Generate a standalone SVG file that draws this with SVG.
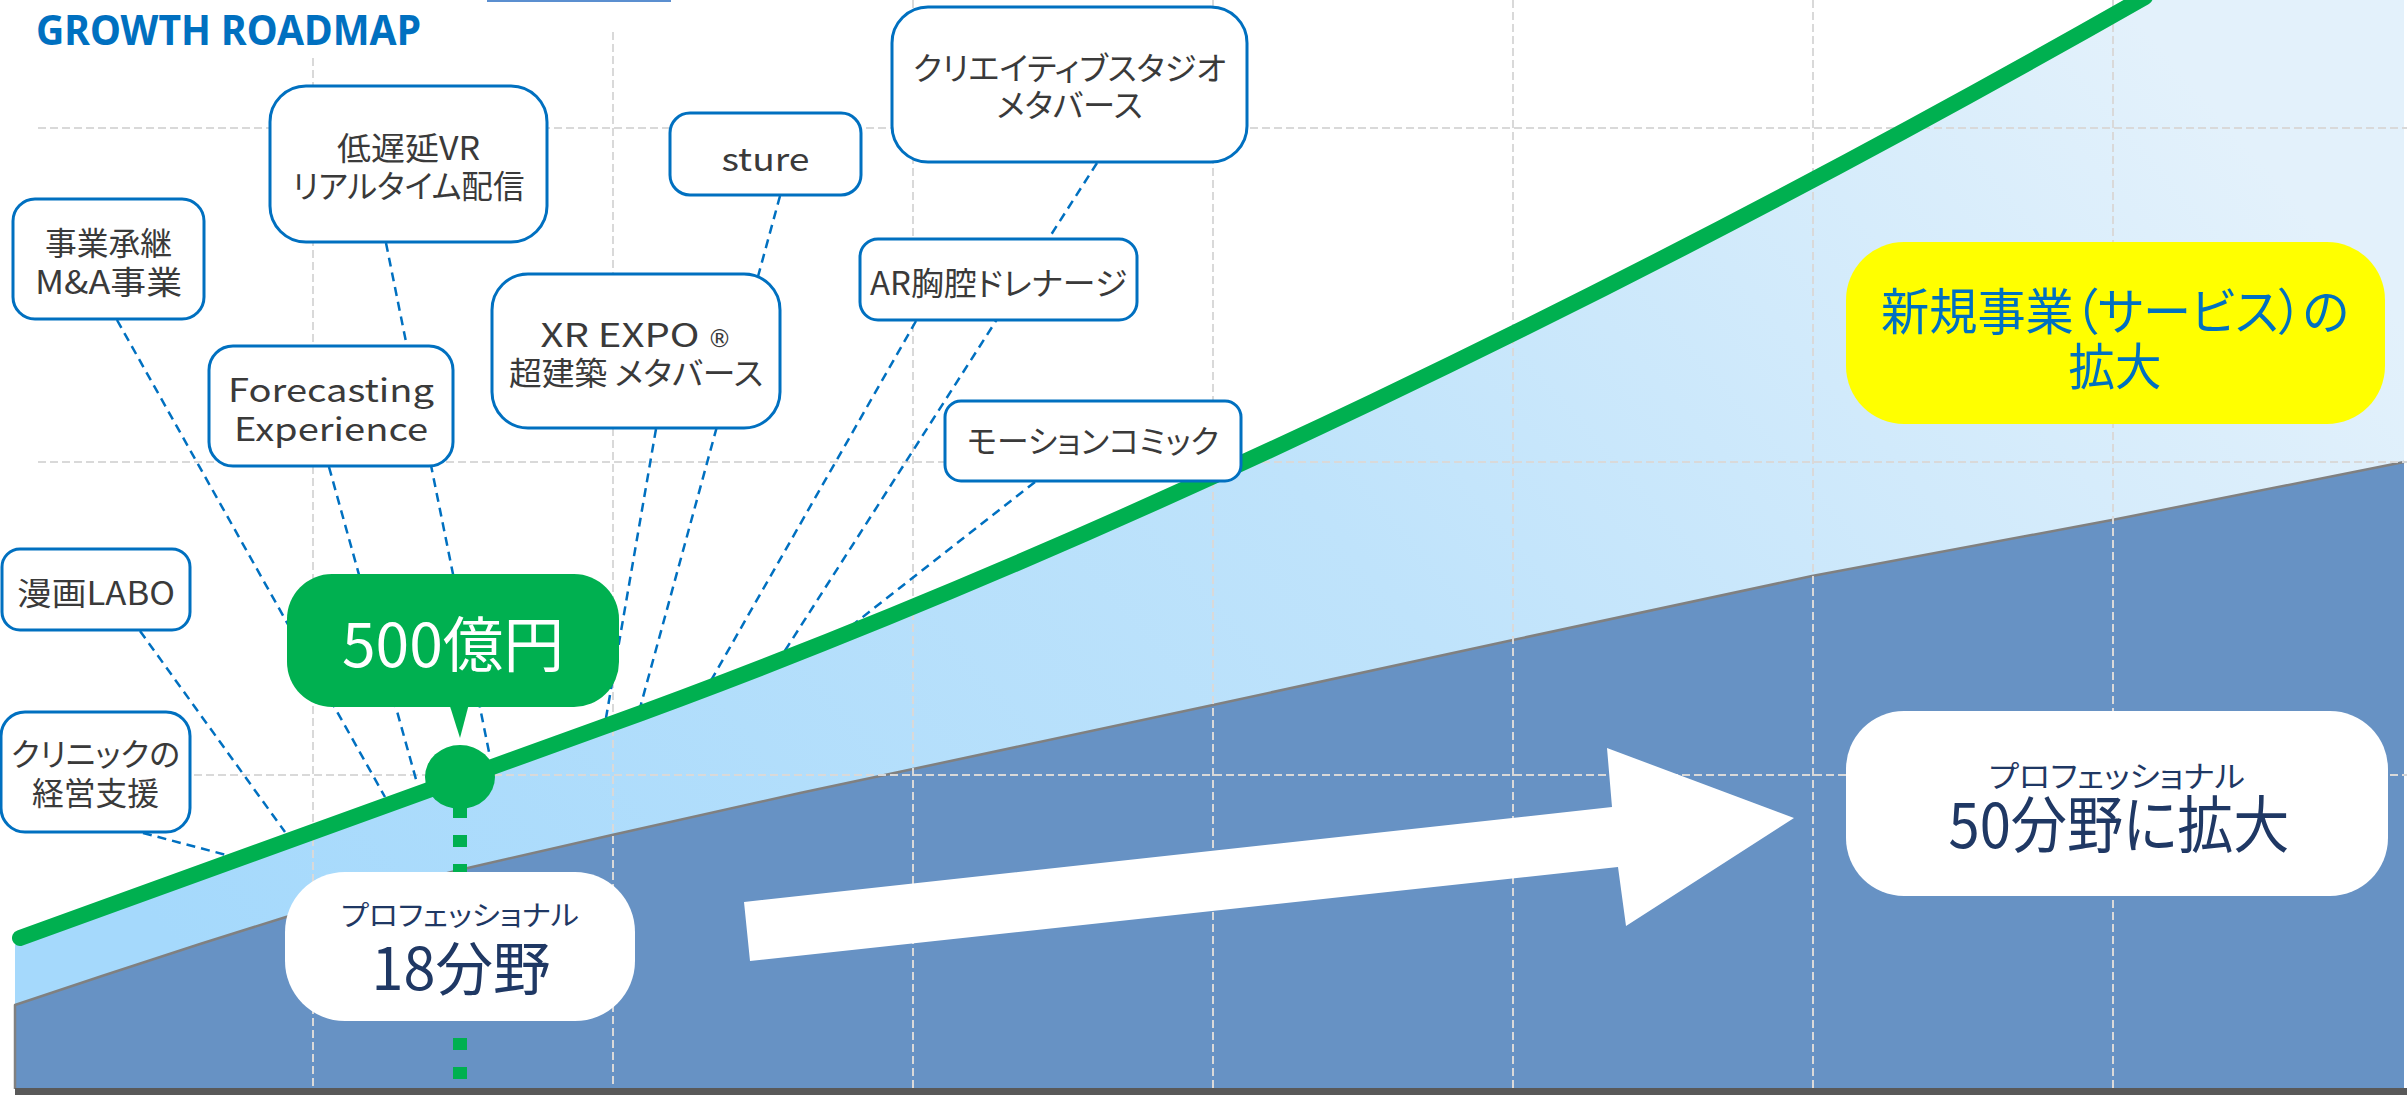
<svg xmlns="http://www.w3.org/2000/svg" width="2407" height="1095" viewBox="0 0 2407 1095">
<style>
.box{fill:#fff;stroke:#0070c0;stroke-width:3}
.t{font-family:"Noto Sans CJK JP","Noto Sans",sans-serif;font-size:32px;fill:#3a3a3a;text-anchor:middle;font-feature-settings:"palt"}
.conn{stroke:#0070c0;stroke-width:2.5;stroke-dasharray:9 6;fill:none}
.grid{stroke:#d9d9d9;stroke-width:2;stroke-dasharray:8 4;fill:none}
.navy{fill:#1f3864}
.blue{fill:#0070c0}
</style>
<defs>
<linearGradient id="lightg" x1="0" y1="0.7" x2="1" y2="0.3">
<stop offset="0" stop-color="#a5d9fc"/>
<stop offset="0.55" stop-color="#bfe3fb"/>
<stop offset="1" stop-color="#e3f1fb"/>
</linearGradient>
</defs>
<rect width="2407" height="1095" fill="#fff"/>
<g id="areas">
<path fill="url(#lightg)" d="M15,940 L20,938 L600,728 C1100,548 1645,282 2145,-3 L2404,-3 L2404,1089 L15,1089 Z"/>
<path fill="#6792c4" d="M15,1089 L15,1005 L60,990 L102,976 L200,944 L286,917 L380,891 L459,870 L612,835 L800,793 L913,769 L1213,705 L1513,640 L1812,576 L2112,520 L2404,462 L2404,1089 Z"/>
<polyline fill="none" stroke="#808080" stroke-width="2.5" stroke-linejoin="round" points="15,1089 15,1005 60,990 102,976 200,944 286,917 380,891 459,870 612,835 800,793 913,769 1213,705 1513,640 1812,576 2112,520 2404,462"/>
</g>
<g id="grid">
<line class="grid" x1="38" y1="128" x2="2407" y2="128"/>
<line class="grid" x1="38" y1="462" x2="2407" y2="462"/>
<line class="grid" x1="38" y1="775" x2="2407" y2="775"/>
<line class="grid" x1="313" y1="58" x2="313" y2="1089"/>
<line class="grid" x1="613" y1="32" x2="613" y2="1089"/>
<line class="grid" x1="913" y1="0" x2="913" y2="1089"/>
<line class="grid" x1="1213" y1="0" x2="1213" y2="1089"/>
<line class="grid" x1="1513" y1="0" x2="1513" y2="1089"/>
<line class="grid" x1="1813" y1="0" x2="1813" y2="1089"/>
<line class="grid" x1="2113" y1="0" x2="2113" y2="1089"/>
</g>
<rect x="15" y="1088" width="2392" height="7" fill="#595959"/>
<rect x="487" y="0" width="184" height="2" fill="#5b8fd0"/>
<text x="36" y="45" font-family="'Noto Sans','Liberation Sans',sans-serif" font-weight="bold" font-size="41" fill="#0070c0" textLength="385" lengthAdjust="spacingAndGlyphs">GROWTH ROADMAP</text>
<g id="connectors">
<line class="conn" x1="117" y1="320" x2="385" y2="797"/>
<line class="conn" x1="140" y1="631" x2="285" y2="832"/>
<line class="conn" x1="143" y1="833" x2="234" y2="857"/>
<line class="conn" x1="386" y1="243" x2="489" y2="752"/>
<line class="conn" x1="329" y1="467" x2="417" y2="783"/>
<line class="conn" x1="656" y1="429" x2="606" y2="718"/>
<line class="conn" x1="780" y1="196" x2="640" y2="708"/>
<line class="conn" x1="1097" y1="163" x2="779" y2="660"/>
<line class="conn" x1="916" y1="321" x2="709" y2="684"/>
<line class="conn" x1="1035" y1="482" x2="836" y2="638"/>
</g>
<g id="growth-line">
<line x1="460" y1="806" x2="460" y2="1089" stroke="#00b050" stroke-width="14" stroke-dasharray="12 17"/>
<path fill="none" stroke="#00b050" stroke-width="16" stroke-linecap="round" stroke-linejoin="round" d="M20,938 L600,728 C1100,548 1645,282 2145,-3"/>
<ellipse cx="460" cy="777" rx="35" ry="32" fill="#00b050"/>
</g>
<g id="arrow">
<polygon fill="#fff" points="744,902 1612,807 1607,748 1794,818 1626,926 1618,867 750,961"/>
</g>
<g id="callout-500">
<rect x="287" y="574" width="332" height="133" rx="45" fill="#00b050"/>
<polygon fill="#00b050" points="448,700 470,700 460,738"/>
<text x="453" y="667" font-family="'Noto Sans CJK JP',sans-serif" font-size="60" fill="#fff" text-anchor="middle" textLength="222" lengthAdjust="spacingAndGlyphs">500億円</text>
</g>
<g id="node-jigyo">
<rect class="box" x="13" y="199" width="191" height="120" rx="22"/>
<text class="t"><tspan x="108.5" y="255" textLength="127" lengthAdjust="spacingAndGlyphs">事業承継</tspan><tspan x="108.5" y="294" textLength="147" lengthAdjust="spacingAndGlyphs">M&amp;A事業</tspan></text>
</g>
<g id="node-vr">
<rect class="box" x="270" y="86" width="277" height="156" rx="36"/>
<text class="t"><tspan x="408.5" y="160" textLength="143" lengthAdjust="spacingAndGlyphs">低遅延VR</tspan><tspan x="408.5" y="198" textLength="232" lengthAdjust="spacingAndGlyphs">リアルタイム配信</tspan></text>
</g>
<g id="node-sture">
<rect class="box" x="670" y="113" width="191" height="82" rx="20"/>
<text class="t" x="765.5" y="171" textLength="88" lengthAdjust="spacingAndGlyphs">sture</text>
</g>
<g id="node-xrexpo">
<rect class="box" x="492" y="274" width="288" height="154" rx="36"/>
<text class="t"><tspan x="636" y="347" textLength="159" lengthAdjust="spacingAndGlyphs">XR EXPO</tspan><tspan dx="8" font-family="'DejaVu Sans',sans-serif" font-size="24">®</tspan><tspan x="636" y="385" textLength="254" lengthAdjust="spacingAndGlyphs">超建築 メタバース</tspan></text>
</g>
<g id="node-forecasting">
<rect class="box" x="209" y="346" width="244" height="120" rx="24"/>
<text class="t"><tspan x="331" y="402" textLength="206" lengthAdjust="spacingAndGlyphs">Forecasting</tspan><tspan x="331" y="441" textLength="194" lengthAdjust="spacingAndGlyphs">Experience</tspan></text>
</g>
<g id="node-creative">
<rect class="box" x="892" y="7" width="355" height="155" rx="36"/>
<text class="t"><tspan x="1069.5" y="80" textLength="313" lengthAdjust="spacingAndGlyphs">クリエイティブスタジオ</tspan><tspan x="1069.5" y="117" textLength="146" lengthAdjust="spacingAndGlyphs">メタバース</tspan></text>
</g>
<g id="node-ar">
<rect class="box" x="860" y="239" width="277" height="81" rx="18"/>
<text class="t" x="998.5" y="295" textLength="257" lengthAdjust="spacingAndGlyphs">AR胸腔ドレナージ</text>
</g>
<g id="node-motion">
<rect class="box" x="945" y="401" width="296" height="80" rx="16"/>
<text class="t" x="1093" y="453" textLength="252" lengthAdjust="spacingAndGlyphs">モーションコミック</text>
</g>
<g id="node-manga">
<rect class="box" x="2" y="549" width="188" height="81" rx="18"/>
<text class="t" x="96" y="605" textLength="158" lengthAdjust="spacingAndGlyphs">漫画LABO</text>
</g>
<g id="node-clinic">
<rect class="box" x="1" y="712" width="189" height="120" rx="24"/>
<text class="t"><tspan x="95.5" y="766" textLength="169" lengthAdjust="spacingAndGlyphs">クリニックの</tspan><tspan x="95.5" y="805" textLength="127" lengthAdjust="spacingAndGlyphs">経営支援</tspan></text>
</g>
<g id="node-new-business">
<rect x="1846" y="242" width="539" height="182" rx="58" fill="#ffff00"/>
<text class="t blue" style="font-size:50px"><tspan x="2115" y="330" textLength="468" lengthAdjust="spacingAndGlyphs">新規事業（サービス）の</tspan><tspan x="2115" y="385" textLength="93" lengthAdjust="spacingAndGlyphs">拡大</tspan></text>
</g>
<g id="node-18">
<rect x="285" y="872" width="350" height="149" rx="60" fill="#fff"/>
<text class="t navy"><tspan x="460" y="926" style="font-size:28px" textLength="238" lengthAdjust="spacingAndGlyphs">プロフェッショナル</tspan><tspan x="461" y="990" style="font-size:58px" textLength="179" lengthAdjust="spacingAndGlyphs">18分野</tspan></text>
</g>
<g id="node-50">
<rect x="1846" y="711" width="542" height="185" rx="58" fill="#fff"/>
<text class="t navy"><tspan x="2117" y="787" style="font-size:30px" textLength="256" lengthAdjust="spacingAndGlyphs">プロフェッショナル</tspan><tspan x="2119" y="848" style="font-size:62px" textLength="341" lengthAdjust="spacingAndGlyphs">50分野に拡大</tspan></text>
</g>
</svg>
